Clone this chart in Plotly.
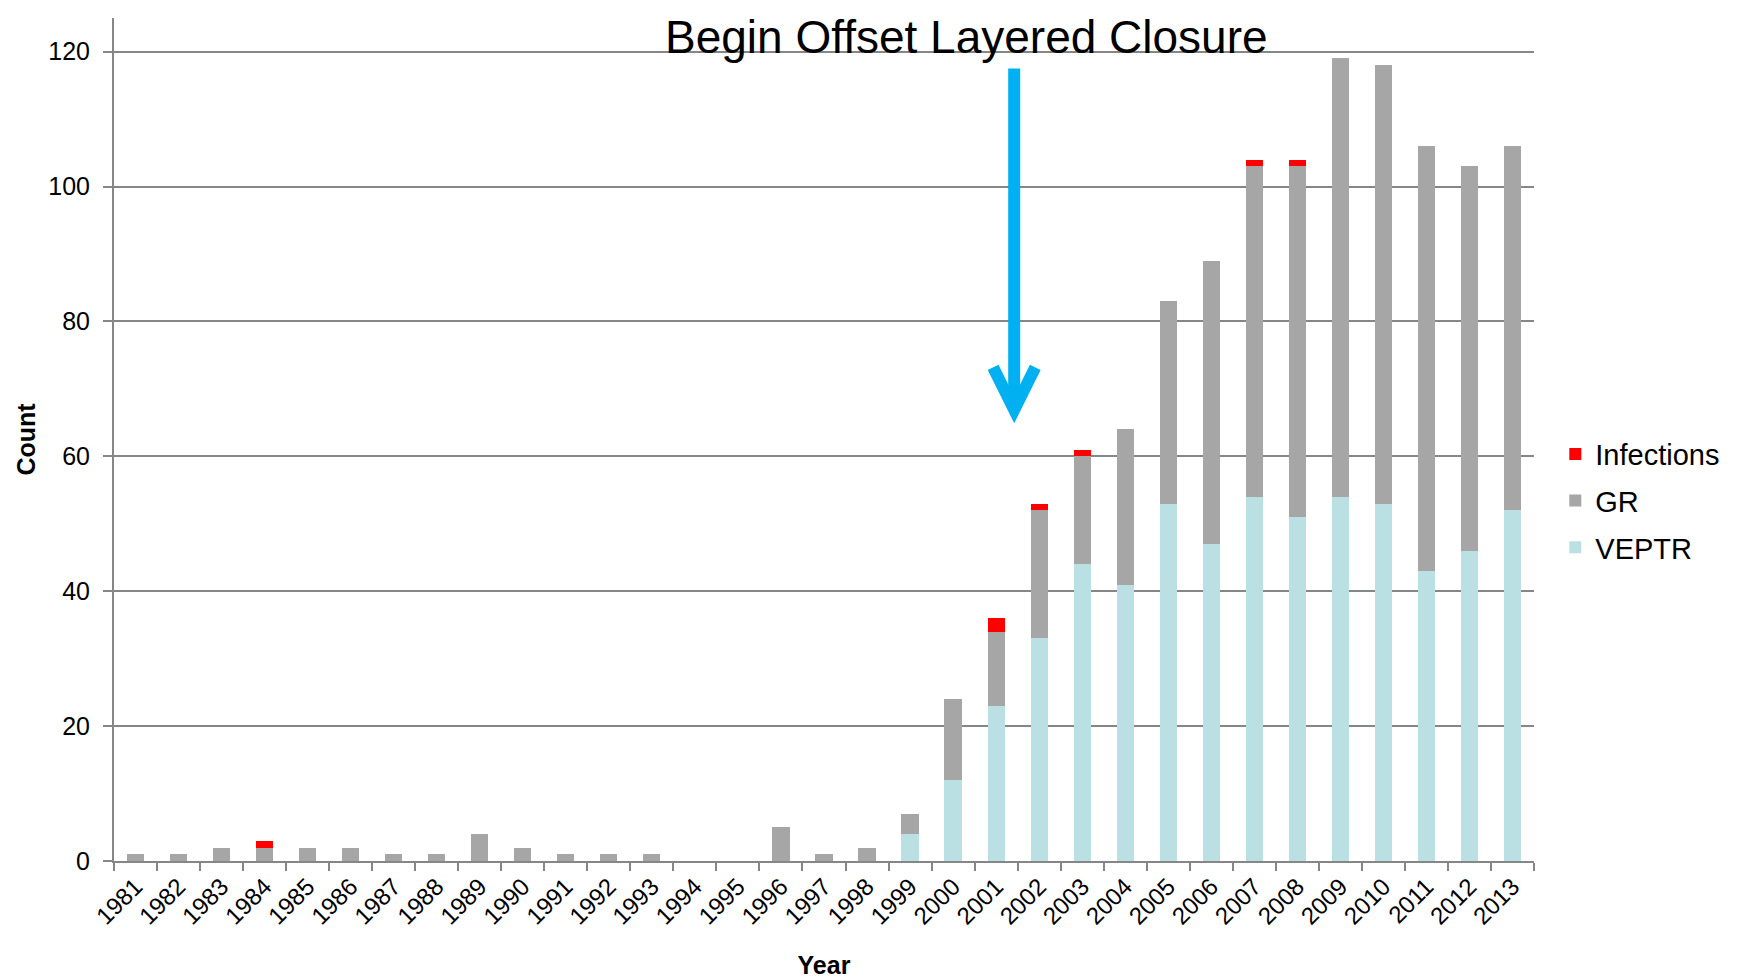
import plotly.graph_objects as go

years = [str(y) for y in range(1981, 2014)]
veptr = [0, 0, 0, 0, 0, 0, 0, 0, 0, 0, 0, 0, 0, 0, 0, 0, 0, 0, 4, 12, 23, 33, 44, 41, 53, 47, 54, 51, 54, 53, 43, 46, 52]
gr = [1, 1, 2, 2, 2, 2, 1, 1, 4, 2, 1, 1, 1, 0, 0, 5, 1, 2, 3, 12, 11, 19, 16, 23, 30, 42, 49, 52, 65, 65, 63, 57, 54]
infections = [0, 0, 0, 1, 0, 0, 0, 0, 0, 0, 0, 0, 0, 0, 0, 0, 0, 0, 0, 0, 2, 1, 1, 0, 0, 0, 1, 1, 0, 0, 0, 0, 0]

FONT = "Liberation Sans, Arial, sans-serif"
GRID = "#868686"

fig = go.Figure()
fig.add_trace(go.Bar(x=years, y=veptr, name="VEPTR", marker=dict(color="#BBE0E3", line=dict(width=0)),
                     width=0.4, legendgroup="v", legendrank=3))
fig.add_trace(go.Bar(x=years, y=gr, name="GR", marker=dict(color="#A6A6A6", line=dict(width=0)),
                     width=0.4, legendgroup="g", legendrank=2))
fig.add_trace(go.Bar(x=years, y=infections, name="Infections", marker=dict(color="#FF0000", line=dict(width=0)),
                     width=0.4, legendgroup="i", legendrank=1))

arrow_color = "#00B0F0"
fig.add_shape(type="line", xref="x", yref="y", x0=20.42, x1=20.42, y0=117.5, y1=67.5,
              line=dict(color=arrow_color, width=12))
fig.add_shape(type="path", xref="x", yref="y",
              path="M 19.93,73.2 L 20.42,66.9 L 20.91,73.2",
              line=dict(color=arrow_color, width=12))

fig.add_annotation(text="Begin Offset Layered Closure", xref="paper", yref="paper",
                   x=0.600, y=1.0107, xanchor="center", yanchor="top", showarrow=False,
                   font=dict(family=FONT, size=46, color="black"))

fig.update_layout(
    width=1737, height=979,
    barmode="stack",
    plot_bgcolor="white", paper_bgcolor="white",
    margin=dict(l=106, r=211, t=10, b=126, autoexpand=False),
    font=dict(family=FONT, color="black"),
    legend=dict(x=1.015, y=0.427, xanchor="left", yanchor="middle",
                traceorder="grouped", tracegroupgap=6,
                font=dict(family=FONT, size=29, color="black"), bgcolor="rgba(0,0,0,0)"),
    xaxis=dict(
        type="category", range=[-0.5, 32.5], tickangle=-45, automargin=False,
        showline=True, linecolor=GRID, linewidth=2,
        ticks="outside", tickson="boundaries", ticklen=8, tickwidth=2, tickcolor=GRID,
        tickfont=dict(family=FONT, size=24, color="black"),
        title=dict(text="<b>Year</b>", font=dict(family=FONT, size=25, color="black"), standoff=28),
        showgrid=False,
    ),
    yaxis=dict(
        range=[0, 125], tickvals=[0, 20, 40, 60, 80, 100, 120], automargin=False,
        showline=True, linecolor=GRID, linewidth=2,
        showgrid=True, gridcolor=GRID, gridwidth=2,
        ticks="outside", ticklen=9, tickwidth=2, tickcolor=GRID,
        tickfont=dict(family=FONT, size=25, color="black"),
        ticklabelstandoff=8,
        title=dict(text="<b>Count</b>", font=dict(family=FONT, size=25, color="black"), standoff=6),
        zeroline=False,
    ),
)

fig.write_html("out.html")
